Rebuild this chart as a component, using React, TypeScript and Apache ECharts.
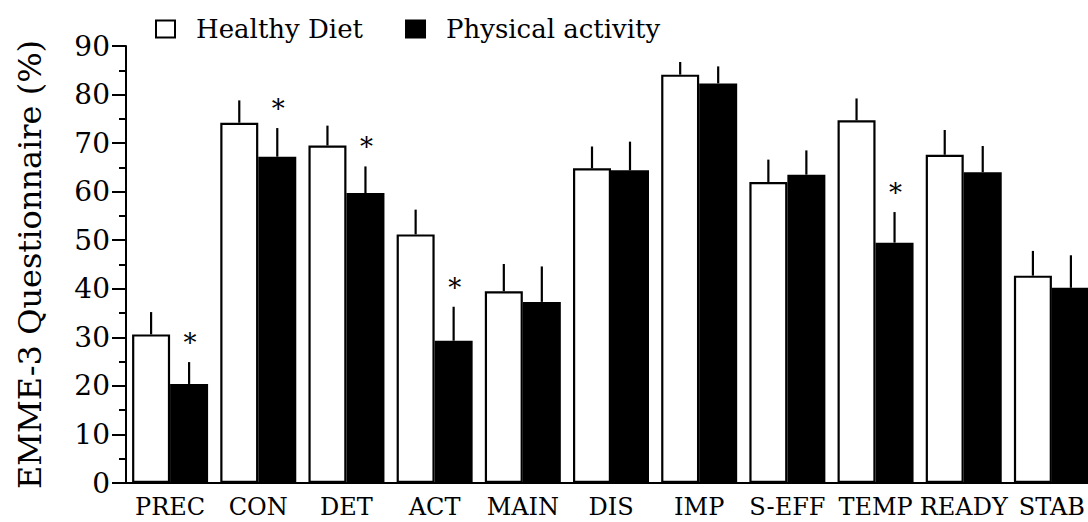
import React, { useEffect, useRef } from "react";
import * as echarts from "echarts";

const categories = ["PREC", "CON", "DET", "ACT", "MAIN", "DIS", "IMP", "S-EFF", "TEMP", "READY", "STAB"];
const healthyDiet = [30.6, 74.2, 69.5, 51.2, 39.5, 64.8, 84.1, 62.0, 74.7, 67.6, 42.7];
const healthyErr = [4.6, 4.6, 4.1, 5.1, 5.6, 4.5, 2.6, 4.6, 4.5, 5.1, 5.1];
const physicalActivity = [20.4, 67.2, 59.7, 29.3, 37.3, 64.4, 82.3, 63.5, 49.5, 64.0, 40.2];
const physicalErr = [4.5, 5.9, 5.5, 7.0, 7.3, 5.9, 3.5, 5.0, 6.3, 5.4, 6.7];
const significant = [true, true, true, true, false, false, false, false, true, false, false];
const yTicks = { min: 0, max: 90, interval: 10 };

const FONT = "DejaVu Serif";
const BAR_W = 38;

export default function App() {
  const ref = useRef<HTMLDivElement>(null);
  useEffect(() => {
    if (!ref.current) return;
    const chart = echarts.init(ref.current, undefined, { renderer: "svg" });

    const errSeries = (name: string, vals: number[], errs: number[], dir: number, stars: boolean) => ({
      type: "custom",
      name: name + " err",
      z: 5,
      silent: true,
      data: vals.map((v, i) => [i, v, errs[i], stars && significant[i] ? 1 : 0]),
      renderItem: (params: any, api: any) => {
        const idx = api.value(0);
        const v = api.value(1);
        const e = api.value(2);
        const base = api.coord([idx, v]);
        const top = api.coord([idx, v + e]);
        const x = base[0] + (dir * BAR_W) / 2;
        const children: any[] = [
          {
            type: "line",
            shape: { x1: x, y1: base[1], x2: x, y2: top[1] },
            style: { stroke: "#000", lineWidth: 2.2 },
          },
        ];
        if (api.value(3) === 1) {
          children.push({
            type: "text",
            style: {
              text: "*",
              x: x + 1,
              y: top[1] - 19,
              align: "center",
              verticalAlign: "middle",
              fontSize: 26,
              fontFamily: FONT,
              fill: "#000",
            },
          });
        }
        return { type: "group", children };
      },
    });

    chart.setOption({
      animation: false,
      backgroundColor: "#fff",
      textStyle: { fontFamily: FONT, color: "#000" },
      legend: {
        left: 150,
        top: 11,
        icon: "rect",
        itemWidth: 19,
        itemHeight: 17,
        itemGap: 42,
        data: ["Healthy Diet", "Physical activity"],
        textStyle: { fontSize: 26, fontFamily: FONT, color: "#000", padding: [0, 0, 0, 16] },
      },
      grid: { left: 126, right: 4, top: 46, bottom: 39 },
      xAxis: {
        type: "category",
        data: categories,
        axisLine: { lineStyle: { color: "#000", width: 2 } },
        axisTick: { show: false },
        axisLabel: { fontSize: 24, fontFamily: FONT, color: "#000", margin: 12, interval: 0 },
      },
      yAxis: {
        type: "value",
        min: yTicks.min,
        max: yTicks.max,
        interval: yTicks.interval,
        name: "EMME-3 Questionnaire (%)",
        nameLocation: "middle",
        nameGap: 80,
        nameTextStyle: { fontSize: 32, fontFamily: FONT, color: "#000" },
        axisLine: { show: true, lineStyle: { color: "#000", width: 2 } },
        axisTick: { show: true, length: 14, lineStyle: { color: "#000", width: 2 } },
        minorTick: { show: true, splitNumber: 2, length: 7, lineStyle: { color: "#000", width: 2 } },
        splitLine: { show: false },
        axisLabel: { fontSize: 28, fontFamily: FONT, color: "#000", margin: 16 },
      },
      series: [
        {
          type: "bar",
          name: "Healthy Diet",
          data: healthyDiet,
          barWidth: BAR_W,
          barGap: "0%",
          itemStyle: { color: "#fff", borderColor: "#000", borderWidth: 2.2 },
        },
        {
          type: "bar",
          name: "Physical activity",
          data: physicalActivity,
          barWidth: BAR_W,
          barGap: "0%",
          itemStyle: { color: "#000", borderColor: "#000", borderWidth: 2.2 },
        },
        errSeries("Healthy Diet", healthyDiet, healthyErr, -1, false),
        errSeries("Physical activity", physicalActivity, physicalErr, 1, true),
      ],
    });
    return () => chart.dispose();
  }, []);

  return (
    <div style={{ position: "fixed", left: 0, top: 0, width: 1088, height: 522, overflow: "hidden", background: "#fff" }}>
      <div ref={ref} style={{ width: 1100, height: 522 }} />
    </div>
  );
}
